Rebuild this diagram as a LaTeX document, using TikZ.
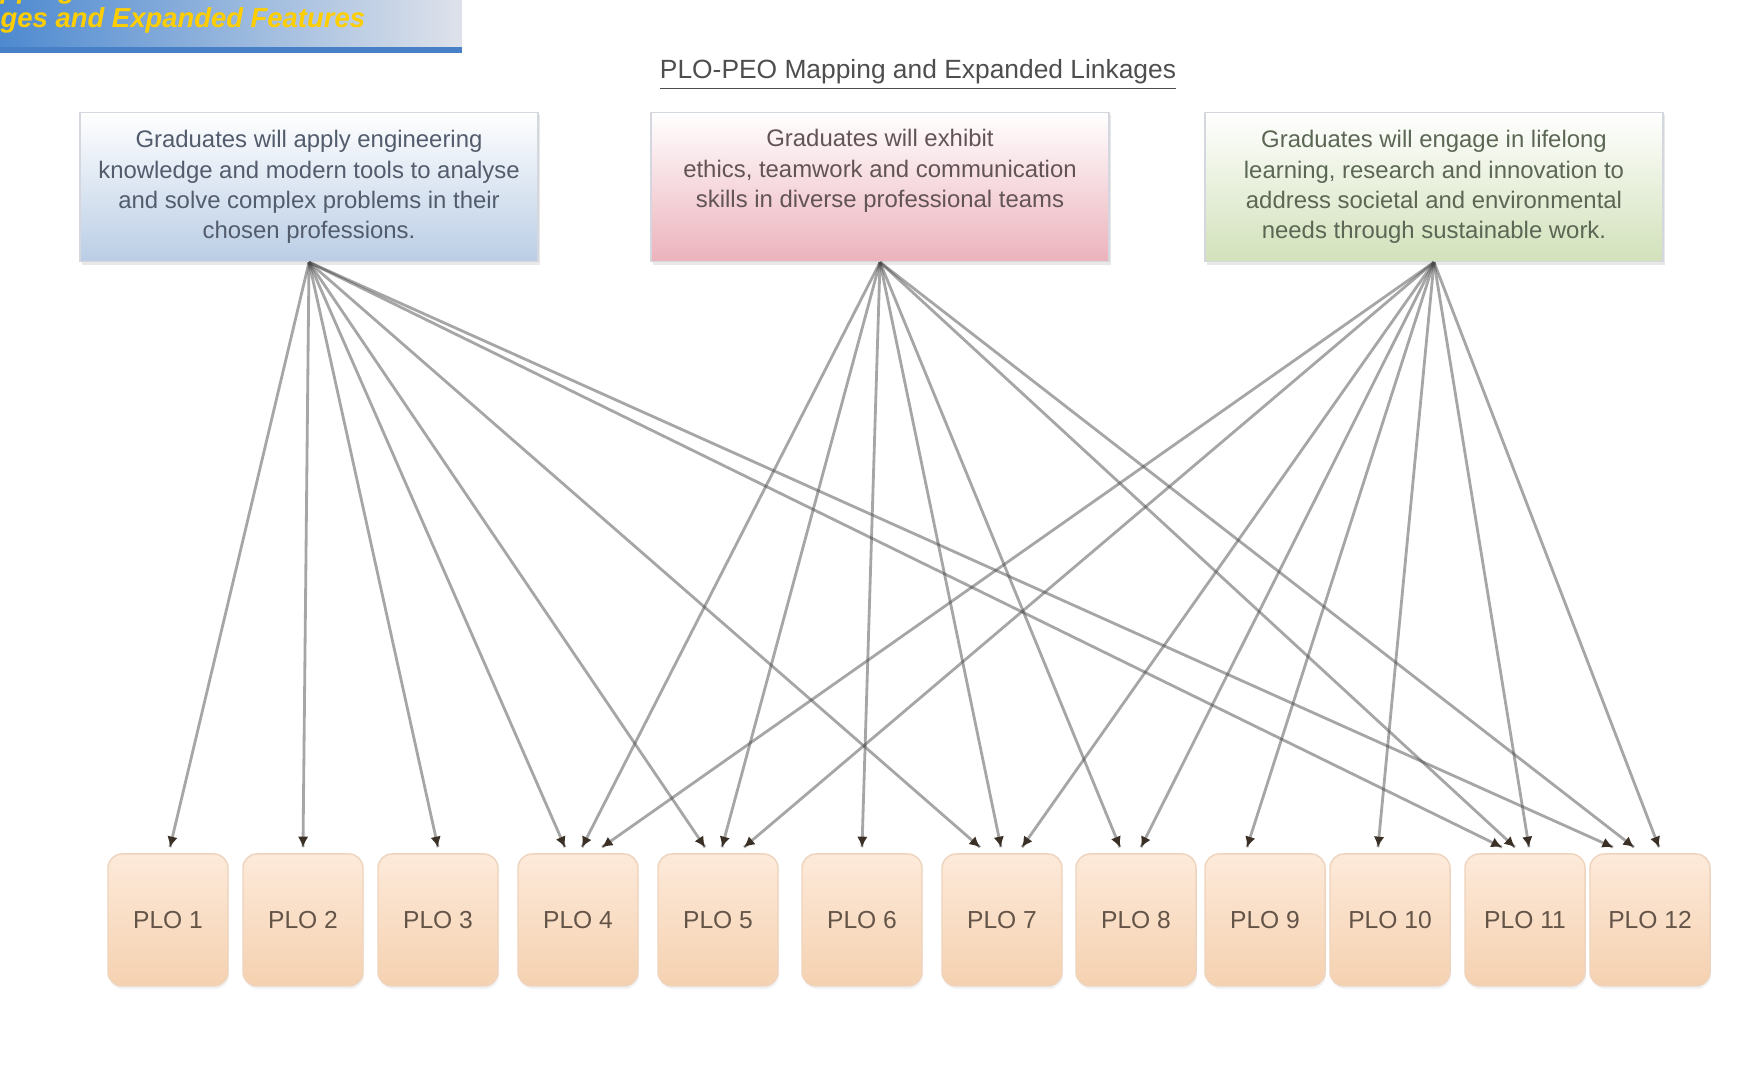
\documentclass[tikz,border=0pt]{standalone}
\usepackage{fontspec}
\setmainfont{Liberation Sans}
\usetikzlibrary{arrows.meta,calc,shadows,decorations.markings}
\definecolor{PeoBannerBlue}{RGB}{78,138,208}
\definecolor{PeoBannerGray}{RGB}{222,226,234}
\definecolor{PeoBannerLine}{RGB}{72,128,200}
\definecolor{PeoGold}{RGB}{255,206,0}
\definecolor{PeoFrame}{RGB}{212,216,222}
\definecolor{PeoBlue}{RGB}{186,205,229}
\definecolor{PeoPink}{RGB}{236,178,188}
\definecolor{PeoGreen}{RGB}{210,225,186}
\definecolor{PeoTextBlue}{RGB}{82,92,108}
\definecolor{PeoTextRed}{RGB}{98,84,86}
\definecolor{PeoTextGreen}{RGB}{92,102,84}
\definecolor{PloTop}{RGB}{253,234,218}
\definecolor{PloBottom}{RGB}{245,209,176}
\definecolor{PloFrame}{RGB}{238,212,190}
\definecolor{PloText}{RGB}{100,84,72}
\definecolor{LinkGray}{RGB}{70,70,70}
\definecolor{TipDark}{RGB}{58,48,38}
\definecolor{TitleGray}{RGB}{78,78,78}
\tikzset{
  peo/box/.style={
    draw=PeoFrame,
    thin,
    top color=white,
    align=center,
    minimum width=4.58cm,
    minimum height=1.49cm,
    inner sep=3pt,
    font=\fontsize{6.8}{8.6}\selectfont,
    drop shadow={opacity=0.18,shadow xshift=0.02cm,shadow yshift=-0.03cm}
  },
  peo/outcome/.style={
    draw=PloFrame,
    rounded corners=0.14cm,
    top color=PloTop,
    bottom color=PloBottom,
    minimum width=1.2cm,
    minimum height=1.32cm,
    text=PloText,
    font=\fontsize{7}{8}\selectfont,
    drop shadow={opacity=0.1,shadow xshift=0.01cm,shadow yshift=-0.03cm}
  },
  peo/link/.style={
    draw=LinkGray,
    draw opacity=0.48,
    line width=0.8pt,
    postaction={decorate},
    decoration={markings,
      mark=at position 1 with {\pgfsetfillopacity{1}\pgfsetstrokeopacity{1}%
        \arrow{Latex[length=3pt,width=3pt,color=TipDark]}}}
  },
  peo/title/.style={font=\fontsize{7.5}{9}\selectfont, text=TitleGray},
  peo/banner/.style={font=\fontsize{7.8}{9}\selectfont\bfseries\itshape, text=PeoGold, anchor=base west, inner sep=0pt}
}

\begin{document}
\begin{tikzpicture}[x=0.01cm,y=0.01cm]
  \useasboundingbox (0,0) rectangle (1760,1079);
  \clip (0,0) rectangle (1760,1079);

  % banner, cut at the left edge
  \shade[left color=PeoBannerBlue, right color=PeoBannerGray] (0,1029) rectangle (462,1079);
  \draw[PeoBannerLine, line width=1.5pt] (0,1029) -- (462,1029);
  \node[peo/banner] (bannerA) at (0,1080) {\llap{PLO Ma}pping};
  \node[peo/banner] (bannerB) at (0,1051) {\llap{Linka}ges and Expanded Features};

  \node[peo/title] (title) at (918,1004) {\underline{PLO-PEO Mapping and Expanded Linkages}};

  % objectives
  \node[peo/box, bottom color=PeoBlue, text=PeoTextBlue] (peo1) at (309,892)
    {Graduates will apply engineering\\knowledge and modern tools to analyse\\and solve complex problems in their\\chosen professions.};
  \node[peo/box, bottom color=PeoPink, text=PeoTextRed] (peo2) at (880,892)
    {Graduates will exhibit\\ethics, teamwork and communication\\skills in diverse professional teams\\[2pt]\mbox{}};
  \node[peo/box, bottom color=PeoGreen, text=PeoTextGreen] (peo3) at (1434,892)
    {Graduates will engage in lifelong\\learning, research and innovation to\\address societal and environmental\\needs through sustainable work.};

  % outcomes
  \foreach \i/\x in {1/168,2/303,3/438,4/578,5/718,6/862,7/1002,8/1136,9/1265,10/1390,11/1525,12/1650}
    \node[peo/outcome] (plo\i) at (\x,159) {PLO \i};

  % links
  \foreach \src/\dst/\dx in {1/1/2,1/2/0,1/3/0,1/4/-13,1/5/-13,1/7/-22,1/11/-23,1/12/-37,
    2/4/4,2/5/4,2/6/0,2/7/-1,2/8/-16,2/11/-10,2/12/-16,
    3/4/24,3/5/26,3/7/20,3/8/5,3/9/-18,3/10/-12,3/11/4,3/12/9}
    \draw[peo/link] (peo\src.south) -- ($(plo\dst.north)+(\dx,6)$);
\end{tikzpicture}
\end{document}
